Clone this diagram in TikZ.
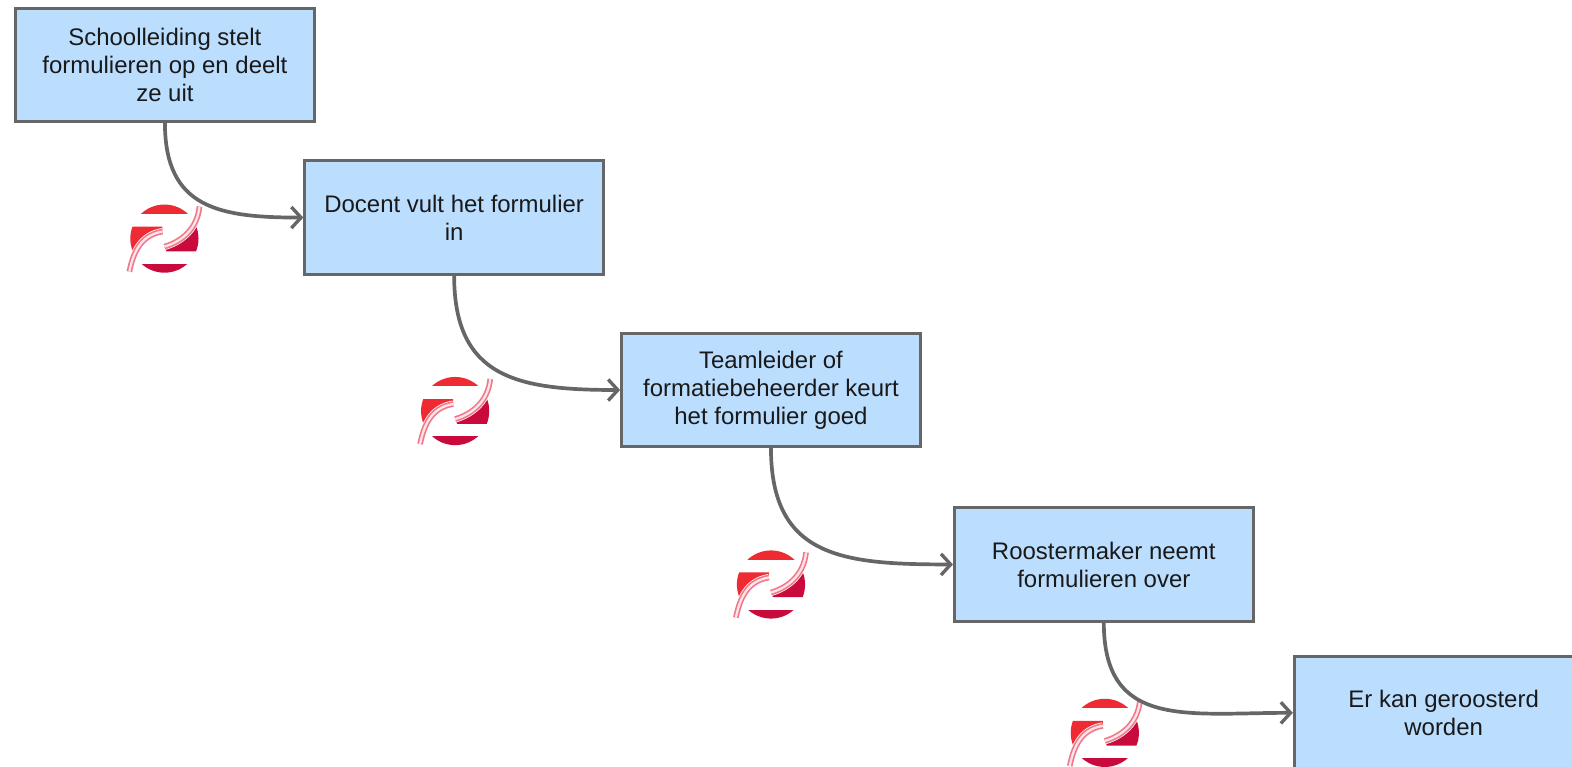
\documentclass[tikz,border=0pt]{standalone}
\usepackage{fontspec}
\setmainfont{Liberation Sans}
\usetikzlibrary{arrows.meta}
\definecolor{box-fill}{HTML}{BBDEFF}
\definecolor{box-line}{HTML}{666666}
\definecolor{logo-red}{HTML}{EE2B33}
\definecolor{logo-crimson}{HTML}{C80A3C}
\definecolor{logo-pink}{HTML}{F0788A}
\tikzset{
    stepbox/.style={draw=box-line, fill=box-fill, line width=1.7pt, minimum width=5.96cm,
                    minimum height=2.26cm, align=center, font=\fontsize{13.6}{15.9}\selectfont, text=black!90},
    flow/.style={draw=box-line, line width=2.1pt, out=-90, in=180, looseness=1.3,
                 -{Straight Barb[length=5.5pt, width=12pt, line width=1.9pt]}},
    zlogo/.pic={
        \begin{scope}
            \clip (0,0) circle (34);
            \fill[logo-red] (-40,-40) rectangle (40,-24.5);
            \fill[logo-crimson] (-40,25) rectangle (40,40);
            \fill[logo-red] (-40,-12) -- (-2,-12) -- (-2,-7) .. controls (-20,-4) and (-30,8) .. (-35,33) -- (-40,33) -- cycle;
            \fill[logo-crimson] (35,-32) .. controls (33,-12) and (20,2) .. (0,8) -- (2,12.7) -- (40,12.7) -- (40,-32) -- cycle;
        \end{scope}
        \draw[white, line width=4pt] (-2,-7) .. controls (-20,-4) and (-30,8) .. (-35,33);
        \draw[white, line width=4pt] (35,-32) .. controls (33,-12) and (20,2) .. (0,8);
        \draw[logo-pink, line width=3.2pt] (-2,-7) .. controls (-20,-4) and (-30,8) .. (-35,33);
        \draw[logo-pink, line width=3.2pt] (35,-32) .. controls (33,-12) and (20,2) .. (0,8);
        \draw[white!80!logo-pink, line width=1.3pt] (-2,-7) .. controls (-20,-4) and (-30,8) .. (-35,33);
        \draw[white!80!logo-pink, line width=1.3pt] (35,-32) .. controls (33,-12) and (20,2) .. (0,8);
    }
}

\begin{document}
\begin{tikzpicture}[x=0.02cm, y=-0.02cm]

    % page
    \useasboundingbox (0,0) rectangle (1568,765);
    \clip (0,0) rectangle (1568,765);

    % logos
    \pic at (164,238) {zlogo};
    \pic at (454,410) {zlogo};
    \pic at (769,583) {zlogo};
    \pic at (1102,731) {zlogo};

    % boxes
    \node[stepbox] (leiding) at (164.5,64.5) {Schoolleiding stelt\\formulieren op en deelt\\ze uit};
    \node[stepbox] (docent) at (453,217) {Docent vult het formulier\\in};
    \node[stepbox] (teamleider) at (769,389) {Teamleider of\\formatiebeheerder keurt\\het formulier goed};
    \node[stepbox] (rooster) at (1101,563) {Roostermaker neemt\\formulieren over};
    \node[stepbox] (klaar) at (1440,711) {Er kan geroosterd\\worden};

    % connectors
    \draw[flow] (leiding.south) to (docent.west);
    \draw[flow] (docent.south) to (teamleider.west);
    \draw[flow] (teamleider.south) to (rooster.west);
    \draw[flow] (rooster.south) to (klaar.west);

\end{tikzpicture}
\end{document}
